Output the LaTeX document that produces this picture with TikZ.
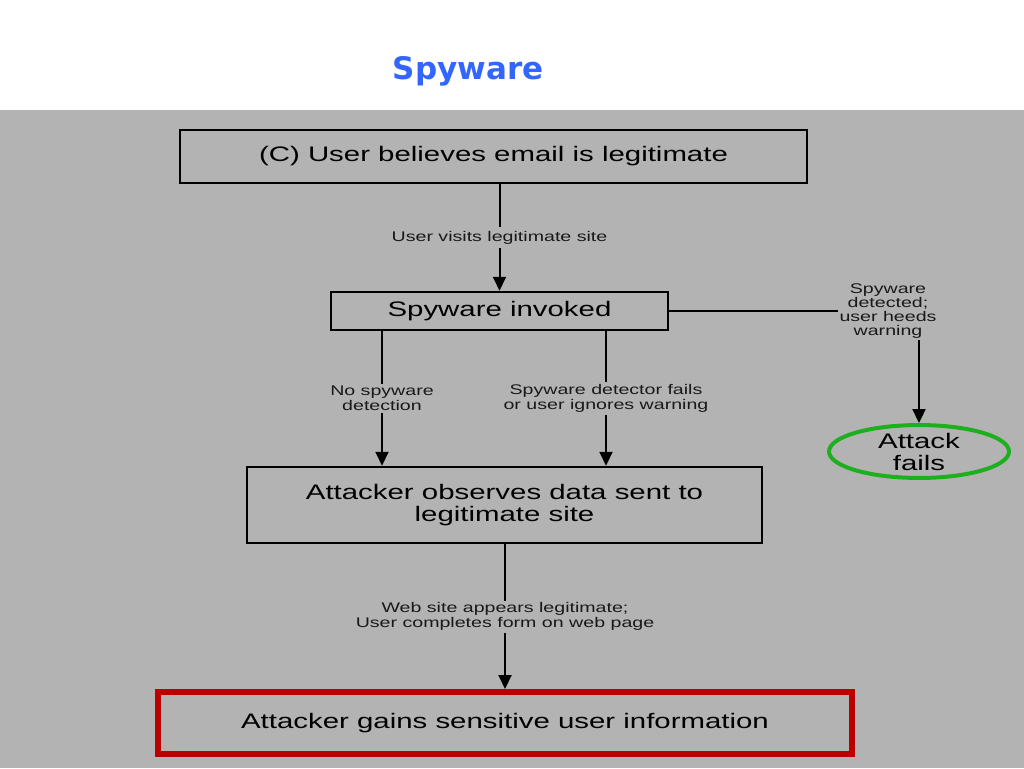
\documentclass[tikz,border=0pt]{standalone}
\usepackage{fontspec}
\setmainfont{Liberation Sans}[FakeStretch=1.4]
\newfontfamily\titlefont{DejaVu Sans}
\usetikzlibrary{arrows.meta,shapes.geometric}
\definecolor{bg}{RGB}{179,179,179}
\definecolor{ttl}{RGB}{51,102,255}
\definecolor{okgreen}{RGB}{30,175,30}
\definecolor{badred}{RGB}{187,0,0}
\begin{document}
\begin{tikzpicture}[x=1pt,y=-1pt,
 box/.style={draw=black,line width=2.5pt,inner sep=0pt,font=\fontsize{21}{22}\selectfont,align=center},
 lbl/.style={fill=bg,inner sep=2pt,font=\fontsize{14}{15}\selectfont,align=center,text=black!90},
 arr/.style={line width=2pt,-{Triangle[width=13pt,length=14pt]}}]
\useasboundingbox (0,0) rectangle (1024,768);
\fill[white] (0,0) rectangle (1024,768);
\fill[bg] (0,110) rectangle (1024,768);
\node[font=\titlefont\bfseries\fontsize{31}{36}\selectfont,text=ttl] (title) at (468,71) {Spyware};
\node[box,minimum width=627pt,minimum height=53pt] (top) at (493.5,156.5) {(C) User believes email is legitimate};
\node[box,minimum width=337pt,minimum height=38pt] (inv) at (499.5,311) {Spyware invoked};
\node[box,minimum width=515pt,minimum height=76pt] (obs) at (504.5,505) {Attacker observes data sent to\\legitimate site};
\node[box,draw=badred,line width=6pt,minimum width=694pt,minimum height=62pt] (gain) at (505,723) {Attacker gains sensitive user information};
\node[ellipse,draw=okgreen,line width=4pt,minimum width=180pt,minimum height=49pt,inner sep=0pt,font=\fontsize{21}{22}\selectfont,align=center] (fail) at (919,451.5) {Attack\\fails};
\draw[arr] (inv.north |- top.south) -- node[lbl,inner sep=4pt] {User visits legitimate site} (inv.north);
\draw[arr] ([xshift=-117.5pt]inv.south) -- node[lbl] {No spyware\\detection} ([xshift=-117.5pt]inv.south |- obs.north);
\draw[arr] ([xshift=106.5pt]inv.south) -- node[lbl] {Spyware detector fails\\or user ignores warning} ([xshift=106.5pt]inv.south |- obs.north);
\draw[arr] (obs.south -| gain.north) -- node[lbl] {Web site appears legitimate;\\User completes form on web page} (gain.north);
\draw[arr] (inv.east) -| (fail.north);
\node[lbl,font=\fontsize{14}{14}\selectfont] (det) at (888,311) {Spyware\\detected;\\user heeds\\warning};
\end{tikzpicture}
\end{document}
